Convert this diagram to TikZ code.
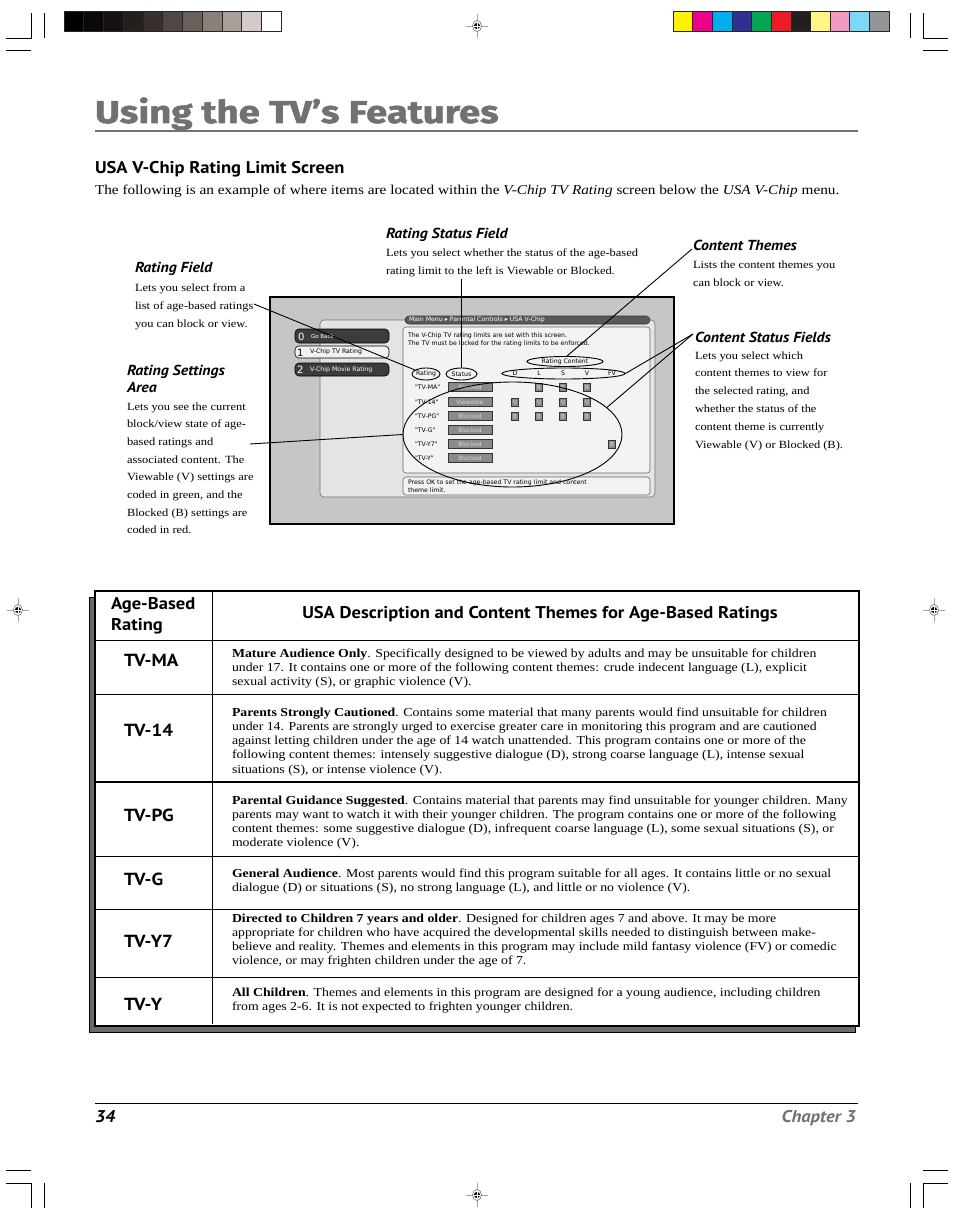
\documentclass[tikz,border=0pt]{standalone}
\usepackage{fontspec}
\setmainfont{Liberation Serif}[FakeStretch=1.13]
\newfontfamily\hsans{PT Sans}[FakeStretch=1.09]
\newfontfamily\tfont{Fira Sans}[BoldFeatures={FakeBold=1.7,FakeStretch=1.22}]
\newfontfamily\scrfont{DejaVu Sans}
\usetikzlibrary{shapes.geometric}
\definecolor{titlegray}{HTML}{707173}
\definecolor{scrbg}{HTML}{C6C6C6}
\definecolor{panelbg}{HTML}{E4E4E4}
\definecolor{boxbg}{HTML}{F3F3F3}
\definecolor{btndark}{HTML}{3C3C3C}
\definecolor{statgray}{HTML}{8A8A8A}
\tikzset{
  ln/.style={anchor=base west, inner sep=0pt, outer sep=0pt},
  callhead/.style={ln, font=\hsans\bfseries\itshape\fontsize{14.5}{17}\selectfont},
  callbody/.style={ln, font=\fontsize{11}{13}\selectfont},
  tbody/.style={ln, font=\fontsize{12.2}{14}\selectfont},
  rowlab/.style={ln, font=\hsans\bfseries\fontsize{17.5}{20}\selectfont},
  thead/.style={inner sep=0pt, font=\hsans\bfseries\fontsize{17}{20}\selectfont},
  scr/.style={inner sep=0pt, outer sep=0pt, font=\scrfont\fontsize{6.2}{7}\selectfont},
  connector/.style={draw=black, line width=0.9pt},
  ell/.style={ellipse, draw=black, line width=0.9pt, inner sep=0pt},
  crop/.style={draw=black, line width=0.8pt},
  statbox/.style={draw=black!80, line width=0.4pt, fill=statgray, minimum width=44pt, minimum height=9pt, inner sep=0pt, text=black!15, font=\scrfont\fontsize{6}{7}\selectfont},
  cbx/.style={draw=black!80, line width=0.4pt, fill=statgray, minimum width=7pt, minimum height=8pt, inner sep=0pt, text=black!15, font=\scrfont\fontsize{5.5}{6}\selectfont},
}
\newcommand\textlines[6]{%
  \foreach \tl [count=\ii] in {#6} {\node[#2] (#1\ii) at (#3, {#4+(\ii-1)*#5}) {\tl};}%
}
\newcommand\regmark[3]{%
  \draw[black!35, line width=0.6pt] (#1-11,#2) -- (#1+11,#2) (#1,#2-12) -- (#1,#2+12);
  \draw[black!60, line width=0.5pt, fill=white] (#1,#2) ellipse (4.5 and 5.5);
  \fill[black] (#1,#2) circle (3.1);
  \draw[white, line width=0.5pt] (#1-3.1,#2) -- (#1+3.1,#2) (#1,#2-3.1) -- (#1,#2+3.1);
  \coordinate (#3) at (#1,#2);
}
\begin{document}
\begin{tikzpicture}[x=1pt,y=-1pt]
\useasboundingbox (0,0) rectangle (954,1222);
\fill[white] (0,0) rectangle (954,1222);

% ---------- crop marks ----------
\draw[crop] (6,38) -- (31,38) -- (31,13);
\draw[crop] (44,13) -- (44,38);
\draw[crop] (6,50) -- (31,50);
\draw[crop] (910,13) -- (910,38);
\draw[crop] (948,38) -- (923,38) -- (923,13);
\draw[crop] (923,50) -- (948,50);
\draw[crop] (6,1170) -- (31,1170);
\draw[crop] (6,1183) -- (31,1183) -- (31,1208);
\draw[crop] (44,1183) -- (44,1208);
\draw[crop] (923,1170) -- (948,1170);
\draw[crop] (948,1183) -- (923,1183) -- (923,1208);
\draw[crop] (910,1183) -- (910,1208);

% ---------- registration marks ----------
\regmark{477}{26}{regT}
\regmark{477}{1195}{regB}
\regmark{18}{610}{regL}
\regmark{934}{610}{regR}

% ---------- colour bars ----------
\foreach \c [count=\i from 0] in {000000,0B0807,151211,231F1D,38302D,4F4744,6A605B,8A7F79,A9A09B,D4CBC8,FFFFFF} {
  \definecolor{gb}{HTML}{\c}
  \fill[gb] ({64+\i*19.73},12) rectangle ({64+(\i+1)*19.73},32);
}
\foreach \i in {1,...,10} {\draw[black!85, line width=0.6pt] ({64+\i*19.73},12) -- ({64+\i*19.73},32);}
\draw[black!85, line width=1pt] (64,12) rectangle (281,32);
\foreach \c [count=\i from 0] in {FFF200,EC008C,00AEEF,2E3192,00A651,ED1C24,231F20,FFF685,F49AC1,7DD8F7,939598} {
  \definecolor{cb}{HTML}{\c}
  \fill[cb] ({673+\i*19.64},12) rectangle ({673+(\i+1)*19.64},32);
}
\foreach \i in {1,...,10} {\draw[black!85, line width=0.6pt] ({673+\i*19.64},12) -- ({673+\i*19.64},32);}
\draw[black!85, line width=1pt] (673,12) rectangle (889,32);

% ---------- title ----------
\node[ln, text=titlegray, font=\tfont\bfseries\fontsize{31.5}{34}\selectfont] (title) at (95,123) {Using the TV’s Features};
\draw[titlegray, line width=2pt] (95,131) -- (858,131);
\node[ln, font=\hsans\bfseries\fontsize{17}{20}\selectfont] (sect) at (95,174) {USA V-Chip Rating Limit Screen};
\node[ln, font=\fontsize{13.5}{16}\selectfont] (intro) at (95,195) {The following is an example of where items are located within the \textit{V-Chip TV Rating} screen below the \textit{USA V-Chip} menu.};

% ---------- TV screen ----------
\draw[black, line width=2pt, fill=scrbg] (270,297) rectangle (674,524);
\draw[black!55, line width=0.6pt, fill=panelbg, rounded corners=4pt] (320,320) rectangle (655,497);
\draw[black!60, line width=0.6pt, fill=boxbg, rounded corners=3pt] (403,327) rectangle (650,473);
\draw[black!60, line width=0.6pt, fill=boxbg, rounded corners=3pt] (403,477) rectangle (650,495);
\draw[black!80, line width=0.6pt, fill=black!65, rounded corners=4pt] (405,316) rectangle (650,324);
\node[scr, anchor=west, text=white] (crumb) at (409,320) {Main Menu ▸ Parental Controls ▸ USA V-Chip};

\draw[black, line width=0.6pt, fill=btndark, rounded corners=4pt] (295,329) rectangle (389,343);
\node[scr, anchor=west, text=white, font=\scrfont\fontsize{10}{10}\selectfont] (b0n) at (298,336.5) {0};
\node[scr, anchor=west, text=white, font=\scrfont\fontsize{5.5}{6}\selectfont] (b0t) at (311,336) {Go Back};
\draw[black, line width=0.6pt, fill=black!5, rounded corners=4pt] (295,346) rectangle (389,358);
\node[scr, anchor=west, text=black, font=\scrfont\fontsize{10}{10}\selectfont] (b1n) at (297,352.5) {1};
\node[scr, anchor=west, text=black] (b1t) at (310,352) {V-Chip TV Rating};
\draw[black, line width=0.6pt, fill=btndark, rounded corners=4pt] (295,363) rectangle (389,376);
\node[scr, anchor=west, text=white, font=\scrfont\fontsize{10}{10}\selectfont] (b2n) at (297,370) {2};
\node[scr, anchor=west, text=white] (b2t) at (310,369.5) {V-Chip Movie Rating};

\node[scr, anchor=base west] (s1) at (408,337) {The V-Chip TV rating limits are set with this screen.};
\node[scr, anchor=base west] (s2) at (408,345) {The TV must be locked for the rating limits to be enforced.};
\node[scr, anchor=base west] (m1) at (408,484) {Press OK to set the age-based TV rating limit and content};
\node[scr, anchor=base west] (m2) at (408,492) {theme limit.};

\node[scr] (hRC) at (565,361.5) {Rating Content};
\node[scr] (hRat) at (426,374) {Rating};
\node[scr] (hSt) at (461.5,374) {Status};
\foreach \t/\xx in {D/515,L/539,S/563,V/587,FV/612} {\node[scr] (h\t) at (\xx,373.5) {\t};}

\foreach \t/\yy/\s [count=\r] in {TV-MA/387/Blocked,TV-14/402/Viewable,TV-PG/416/Blocked,TV-G/430/Blocked,TV-Y7/444/Blocked,TV-Y/458/Blocked} {
  \node[scr, anchor=west] (rl\r) at (415,\yy) {"\t"};
  \node[statbox] (st\r) at (470,\yy) {\s};
}
\foreach \xx/\n in {539/L,563/S,587/V} {\node[cbx] (cma\n) at (\xx,387) {B};}
\foreach \xx/\n in {515/D,539/L,563/S,587/V} {\node[cbx] (c14\n) at (\xx,402) {V};}
\foreach \xx/\n in {515/D,539/L,563/S,587/V} {\node[cbx] (cpg\n) at (\xx,416) {B};}
\node[cbx] (cy7FV) at (612,444) {B};

% ellipses
\node[ell, minimum width=28pt, minimum height=12pt] (rateEll) at (426,374) {};
\node[ell, minimum width=31pt, minimum height=12pt] (statEll) at (461.5,374) {};
\node[ell, minimum width=76pt, minimum height=10pt] (contEll) at (565,361.5) {};
\node[ell, minimum width=123pt, minimum height=11pt] (themeEll) at (563.5,373.5) {};
\node[ell, minimum width=219pt, minimum height=105pt] (bigEll) at (512.5,434.5) {};

% ---------- callout texts ----------
\node[callhead] (rfH) at (135,273) {Rating Field};
\textlines{rfB}{callbody}{135}{291}{18}{{Lets you select from a},{list of age-based ratings},{you can block or view.}}

\node[callhead] (rsH1) at (127,375) {Rating Settings};
\node[callhead] (rsH2) at (127,392) {Area};
\textlines{rsB}{callbody}{127}{410}{17.7}{{Lets you see the current},{block/view state of age-},{based ratings and},{associated content. The},{Viewable (V) settings are},{coded in green, and the},{Blocked (B) settings are},{coded in red.}}

\node[callhead] (sfH) at (386,239) {Rating Status Field};
\textlines{sfB}{callbody}{386}{257}{18}{{Lets you select whether the status of the age-based},{rating limit to the left is Viewable or Blocked.}}

\node[callhead] (ctH) at (693,251) {Content Themes};
\textlines{ctB}{callbody}{693}{269}{18}{{Lists the content themes you},{can block or view.}}

\node[callhead] (csH) at (695,342) {Content Status Fields};
\textlines{csB}{callbody}{695}{359}{17.8}{{Lets you select which},{content themes to view for},{the selected rating, and},{whether the status of the},{content theme is currently},{Viewable (V) or Blocked (B).}}

% ---------- connectors ----------
\coordinate (rfEnd) at (254,304);
\coordinate (rsEnd) at (250,444);
\coordinate (sfEnd) at (461.5,279);
\coordinate (ctEnd) at (692,249);
\coordinate (csEnd) at (693,334);
\draw[connector] (rfEnd) -- (rateEll.160);
\draw[connector] (rsEnd) -- (bigEll.west);
\draw[connector] (sfEnd) -- (statEll.north);
\draw[connector] (ctEnd) -- (contEll.70);
\draw[connector] (csEnd) -- (themeEll.east);
\draw[connector] (csEnd) -- (bigEll.16);

% ---------- table ----------
\draw[black, line width=0.8pt, fill=black!58] (89,597) rectangle (855,1032);
\draw[black, line width=1.5pt, fill=white] (95,591) rectangle (859,1026);
\draw[black, line width=1pt] (212,591) -- (212,1024);
\foreach \yy in {640,694,856,909,977} {\draw[black, line width=1pt] (95,\yy) -- (859,\yy);}
\draw[black, line width=1.8pt] (95,782) -- (859,782);

\node[ln, font=\hsans\bfseries\fontsize{17}{20}\selectfont] (hAge1) at (111,609) {Age-Based};
\node[ln, font=\hsans\bfseries\fontsize{17}{20}\selectfont] (hAge2) at (111,630) {Rating};
\node[thead, anchor=base] (hDesc) at (540,618) {USA Description and Content Themes for Age-Based Ratings};

\node[rowlab] (rMA) at (124,666) {TV-MA};
\node[rowlab] (r14) at (124,736) {TV-14};
\node[rowlab] (rPG) at (124,821) {TV-PG};
\node[rowlab] (rG) at (124,885) {TV-G};
\node[rowlab] (rY7) at (124,947) {TV-Y7};
\node[rowlab] (rY) at (124,1010) {TV-Y};

\textlines{dMA}{tbody}{232}{657}{14.2}{{\textbf{Mature Audience Only}. Specifically designed to be viewed by adults and may be unsuitable for children},{under 17.  It contains one or more of the following content themes:  crude indecent language (L), explicit},{sexual activity (S), or graphic violence (V).}}
\textlines{d14}{tbody}{232}{716}{14.3}{{\textbf{Parents Strongly Cautioned}. Contains some material that many parents would find unsuitable for children},{under 14.  Parents are strongly urged to exercise greater care in monitoring this program and are cautioned},{against letting children under the age of 14 watch unattended.  This program contains one or more of the},{following content themes:  intensely suggestive dialogue (D), strong coarse language (L), intense sexual},{situations (S), or intense violence (V).}}
\textlines{dPG}{tbody}{232}{804}{14.2}{{\textbf{Parental Guidance Suggested}. Contains material that parents may find unsuitable for younger children.  Many},{parents may want to watch it with their younger children.  The program contains one or more of the following},{content themes:  some suggestive dialogue (D), infrequent coarse language (L), some sexual situations (S), or},{moderate violence (V).}}
\textlines{dG}{tbody}{232}{877}{14.2}{{\textbf{General Audience}. Most parents would find this program suitable for all ages.  It contains little or no sexual},{dialogue (D) or situations (S), no strong language (L), and little or no violence (V).}}
\textlines{dY7}{tbody}{232}{922}{14.3}{{\textbf{Directed to Children 7 years and older}. Designed for children ages 7 and above.  It may be more},{appropriate for children who have acquired the developmental skills needed to distinguish between make-},{believe and reality.  Themes and elements in this program may include mild fantasy violence (FV) or comedic},{violence, or may frighten children under the age of 7.}}
\textlines{dY}{tbody}{232}{996}{14.2}{{\textbf{All Children}. Themes and elements in this program are designed for a young audience, including children},{from ages 2-6.  It is not expected to frighten younger children.}}

% ---------- footer ----------
\draw[black, line width=0.8pt] (95,1103) -- (858,1103);
\node[ln, font=\hsans\bfseries\itshape\fontsize{17}{20}\selectfont] (pgno) at (95,1122) {34};
\node[anchor=base east, inner sep=0pt, text=titlegray, font=\hsans\bfseries\itshape\fontsize{17}{20}\selectfont] (chap) at (856,1122) {Chapter 3};
\end{tikzpicture}
\end{document}
